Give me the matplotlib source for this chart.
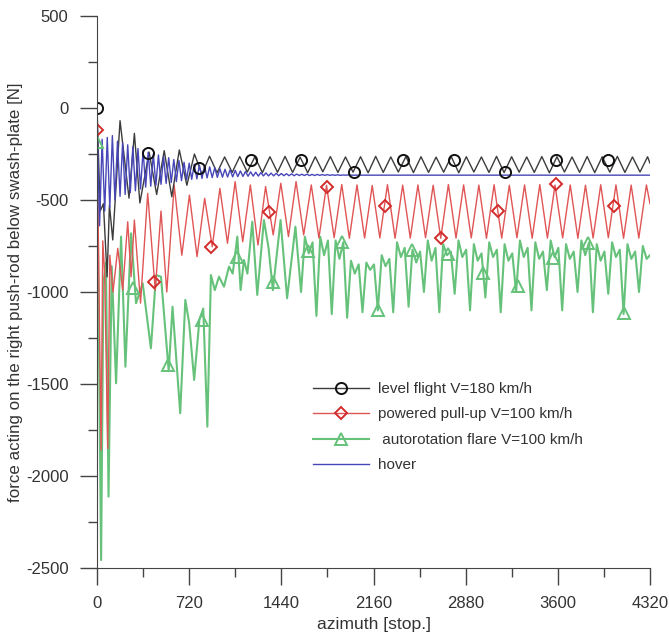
import numpy as np
import matplotlib
matplotlib.use("Agg")
import matplotlib.pyplot as plt
from matplotlib.legend_handler import HandlerTuple

plt.rcParams['font.family'] = ['Liberation Sans', 'DejaVu Sans']
plt.rcParams['axes.unicode_minus'] = False

# ---- level flight V=180 km/h (black) ----
black_x0 = [0, 25, 50, 79, 97, 123, 180, 250, 292, 335]
black_y0 = [0, -560, -520, -918, -527, -717, -69, -490, -138, -516]
black_x1 = np.arange(407, 4320, 59)          # peaks / troughs every half period
black_y1 = [-240, -470, -232, -482, -228, -420, -250, -360, -262, -352,
            -266, -350, -264, -348, -266, -351, -265, -349, -263, -350,
            -267, -352, -265, -347, -264, -350, -266, -349, -265, -352,
            -263, -350, -266, -348, -264, -351, -265, -350, -267, -349,
            -264, -352, -265, -348, -266, -350, -263, -351, -265, -349,
            -266, -350, -264, -352, -265, -348, -266, -350, -264, -351,
            -265, -349, -263, -350, -266, -348, -265]
black_x2 = [4320]
black_y2 = [-300]
circle_x = [0, 396, 797, 1200, 1592, 2005, 2394, 2792, 3185, 3585, 3990]
circle_y = [0, -246, -326, -283, -283, -346, -283, -283, -346, -283, -283]

# ---- powered pull-up V=100 km/h (red) ----
red_x0 = [0, 16, 32, 45, 60, 84, 100, 125, 162, 201, 240, 266, 292, 340,
          396, 455, 500, 545]
red_y0 = [-120, -1000, -1860, -722, -900, -1850, -800, -1000, -763, -989,
          -618, -917, -609, -1060, -464, -990, -560, -1000]
red_x1 = np.arange(603, 4300, 59.5)
red_y1 = [-420, -800, -473, -808, -491, -754, -437, -735, -400, -727,
          -418, -745, -427, -690, -409, -699, -400, -690, -418, -707,
          -420, -705, -416, -708, -418, -707, -421, -706, -417, -708,
          -419, -707, -418, -705, -420, -708, -416, -707, -418, -706,
          -419, -708, -417, -707, -420, -705, -418, -708, -416, -707,
          -419, -706, -418, -708, -420, -707, -417, -705, -418, -708,
          -419, -707, -418]
red_x2 = [4320]
red_y2 = [-520]
diamond_x = [0, 447, 889, 1343, 1797, 2246, 2687, 3133, 3582, 4036]
diamond_y = [-120, -944, -754, -567, -427, -533, -705, -560, -415, -533]

# ---- autorotation flare V=100 km/h (green) ----
green_x0 = [0, 16, 32, 50, 70, 90, 115, 149, 188, 222, 266, 305, 357, 421,
            461, 500, 560, 590, 650, 690, 720, 759, 800, 830, 862, 890, 920,
            953, 992, 1031, 1060, 1096, 1122, 1148, 1175, 1213, 1252, 1304,
            1340, 1374, 1434, 1485, 1550, 1594]
green_y0 = [-185, -1300, -2457, -950, -840, -2112, -860, -1496, -699, -1406,
            -681, -1061, -953, -1306, -908, -917, -1430, -1080, -1659, -1043,
            -1169, -1478, -1150, -1090, -1732, -908, -990, -917, -971, -862,
            -900, -699, -989, -826, -900, -618, -1016, -609, -760, -990,
            -609, -1034, -645, -1000]
green_x1 = np.arange(1624, 4320, 30)         # peak, notch, peak, trough per cycle
green_y1 = [-700, -790, -730, -1130,  -700, -800, -720, -1120,
            -720, -820, -730, -1140,  -830, -900, -850, -1110,
            -840, -880, -850, -1100,  -800, -860, -820, -1110,
            -730, -810, -760, -1080,  -770, -840, -780, -1000,
            -720, -830, -760, -1110,  -740, -800, -780, -1010,
            -720, -810, -770, -1100,  -740, -830, -790, -1030,
            -730, -810, -770, -1110,  -740, -830, -790, -1000,
            -720, -810, -760, -1100,  -730, -820, -780, -990,
            -720, -810, -760, -1100,  -740, -820, -780, -1000,
            -720, -800, -730, -1110,  -740, -830, -780, -1010,
            -730, -810, -770, -1120,  -740, -820, -780, -1000,
            -750, -820]
green_x2 = [4320]
green_y2 = [-800]
tri_x = [0, 279, 551, 824, 1096, 1374, 1649, 1913, 2194, 2464, 2744, 3016,
         3289, 3561, 3839, 4114]
tri_y = [-183, -980, -1397, -1152, -808, -944, -777, -730, -1098, -772, -795,
         -895, -967, -813, -732, -1116]

# ---- hover (blue) ----
blue_x = list(np.arange(0, 2001, 20)) + [4320]
blue_y = [-20, -640, -170, -560, -160, -540, -150, -500, -180, -480,
          -190, -470, -200, -460, -210, -450, -220, -440, -230, -430,
          -240, -425, -250, -420, -255, -415, -265, -410, -270, -405,
          -280, -400, -285, -395, -295, -390, -300, -388, -305, -385,
          -310, -383, -315, -380, -320, -378, -325, -377, -330, -376,
          -333, -375, -336, -374, -339, -373, -342, -372, -345, -371,
          -347, -370, -349, -370, -351, -369, -353, -369, -354, -369,
          -355, -368, -356, -368, -357, -368, -358, -368, -359, -367,
          -360, -367, -360, -367, -361, -367, -361, -366, -362, -366,
          -362, -366, -363, -366, -363, -366, -364, -365, -364, -365,
          -365, -365]

labels = ['level flight V=180 km/h', 'powered pull-up V=100 km/h',
          ' autorotation flare V=100 km/h', 'hover']

c_black, c_red, c_green, c_blue = '#3c3c3c', '#e05555', '#66c27a', '#4646b8'
txt = '#333333'

fig = plt.figure(figsize=(6.69, 6.40), dpi=100)
ax = fig.add_axes([0.145, 0.1125, 0.8266, 0.8625])

gx = np.concatenate([green_x0, green_x1, green_x2])
gy = np.concatenate([green_y0, green_y1, green_y2])
rx = np.concatenate([red_x0, red_x1, red_x2])
ry = np.concatenate([red_y0, red_y1, red_y2])
bx = np.concatenate([black_x0, black_x1, black_x2])
by = np.concatenate([black_y0, black_y1, black_y2])

lg, = ax.plot(gx, gy, color=c_green, lw=1.5)
lr, = ax.plot(rx, ry, color=c_red, lw=1.0)
lk, = ax.plot(bx, by, color=c_black, lw=1.0)
lb, = ax.plot(blue_x, blue_y, color=c_blue, lw=1.0)

mg, = ax.plot(tri_x, tri_y, ls='none', marker='^', ms=8, mfc='none',
              mec=c_green, mew=1.4)
mr, = ax.plot(diamond_x, diamond_y, ls='none', marker='D', ms=6, mfc='none',
              mec='#d42c2c', mew=1.4)
mk, = ax.plot(circle_x, circle_y, ls='none', marker='o', ms=8, mfc='none',
              mec='#111111', mew=1.4)

ax.set_xlim(0, 4320)
ax.set_ylim(-2500, 500)
ax.set_xticks(np.arange(0, 4321, 720))
ax.set_xticks(np.arange(360, 4321, 720), minor=True)
ax.set_yticks(np.arange(-2500, 501, 500))
ax.set_yticks(np.arange(-2250, 500, 500), minor=True)
for s in ['top', 'right']:
    ax.spines[s].set_visible(False)
for s in ['left', 'bottom']:
    ax.spines[s].set_color('#444444')
ax.tick_params(which='major', direction='out', length=12.5, width=1,
               color='#444444', labelsize=12, labelcolor=txt, pad=8)
ax.tick_params(which='minor', direction='out', length=6.5, width=1,
               color='#444444')

ax.set_xlabel('azimuth [stop.]', fontsize=12.6, color=txt, labelpad=4)
ax.set_ylabel('force acting on the right push-rod below swash-plate [N]',
              fontsize=12.2, color=txt, labelpad=2)

ax.legend([(lk, mk), (lr, mr), (lg, mg), lb], labels,
          handler_map={tuple: HandlerTuple(ndivide=1)},
          loc='upper left', bbox_to_anchor=(0.39, 0.337), frameon=False,
          fontsize=11, handlelength=3.7, handletextpad=0.6,
          labelspacing=0.75, borderpad=0, borderaxespad=0, labelcolor=txt)

fig.savefig('out.png', dpi=100)
